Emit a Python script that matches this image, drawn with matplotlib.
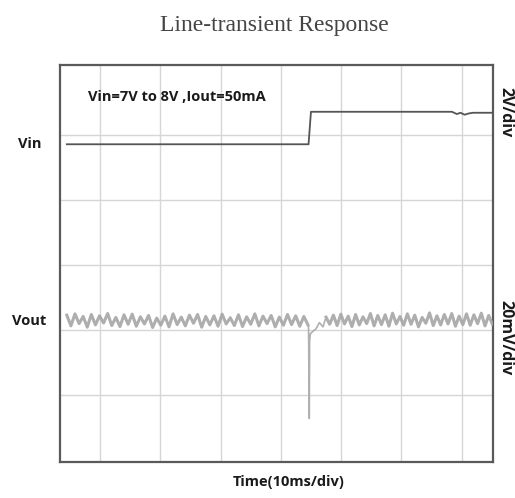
import numpy as np
import matplotlib
matplotlib.use("Agg")
import matplotlib.pyplot as plt

# Vin trace (time in ms, volts)
vin_t = [-5.5, 34.6, 35.0, 58.4, 59.2, 59.8, 60.5, 61.2, 61.9, 65.1]
vin_v = [7.0, 7.0, 8.0, 8.0, 7.93, 7.97, 7.91, 7.95, 7.97, 7.97]

# Vout ripple (mV deviation) before the step, evenly from -5.5 to 34.5 ms
vout_pre = [
    1.8, -1.5, 2.2, -0.8, 1.4, -1.9, 2.0, -1.2, 1.6, -0.6,
    2.3, -1.4, 1.1, -1.7, 1.9, -1.0, 2.1, -1.6, 1.3, -0.9,
    1.7, -2.0, 0.9, -1.3, 1.5, -1.8, 2.2, -1.1, 1.2, -1.5,
    1.8, -0.7, 2.0, -1.9, 1.4, -1.2, 1.6, -1.6, 2.1, -0.9,
    1.0, -1.4, 1.9, -1.7, 1.3, -1.0, 2.2, -1.5, 1.5, -0.8,
    1.7, -1.8, 1.2, -1.3, 2.0, -1.1, 1.6, -1.6, 1.4, -1.2,
]
# transient at the step
spike_t = [34.5, 34.6, 34.72, 34.78, 34.9, 35.3, 35.8, 36.4, 37.0, 37.5]
spike_mv = [-1.2, -1.5, -30.0, -6.0, -4.0, -3.2, -2.5, -0.5, -1.8, 1.2]
# ripple after the step, evenly from 37.5 to 65.1 ms
vout_post = [
    1.2, -1.0, 1.8, -1.4, 2.1, -0.9, 1.5, -1.7, 2.0, -1.2,
    1.3, -0.8, 2.3, -1.5, 1.7, -1.1, 1.9, -1.6, 2.4, -0.9,
    1.4, -1.3, 2.2, -1.0, 1.8, -1.8, 1.1, -0.7, 2.5, -1.4,
    1.6, -1.2, 2.0, -0.9, 2.3, -1.6, 1.5, -1.1, 2.2, -1.3,
    1.9, -0.8, 2.4, -1.5, 1.7, -1.0,
]

# screen placement in divisions
vin_off = -1.64    # div for 0 V
vin_scale = 2.0    # V/div
vout_off = -0.86   # div for 0 mV
vout_scale = 20.0  # mV/div

fig = plt.figure(figsize=(5.15, 4.98), dpi=100)
ax = fig.add_axes([60 / 515, 1 - 462 / 498, 433 / 515, 397 / 498])
ax.set_xlim(-6.63, 65.2)
ax.set_ylim(-3.03, 3.08)

# scope graticule
for gx in range(0, 61, 10):
    ax.axvline(gx, color="#d6d6d6", lw=1.0, zorder=1)
for gy in [-2, -1, 0, 1, 2]:
    ax.axhline(gy, color="#d6d6d6", lw=1.0, zorder=1)
ax.set_xticks([])
ax.set_yticks([])
for s in ax.spines.values():
    s.set_color("#5a5a5a")
    s.set_linewidth(1.6)

vin_y = [vin_off + v / vin_scale for v in vin_v]
ax.plot(vin_t, vin_y, color="#555555", lw=1.3, zorder=3)

def to_div(vals):
    return [vout_off + v / vout_scale for v in vals]

ax.plot(np.linspace(-5.5, 34.5, len(vout_pre)), to_div(vout_pre),
        color="#a5a5a5", lw=2.2, alpha=0.9, zorder=3)
ax.plot(np.linspace(37.5, 65.1, len(vout_post)), to_div(vout_post),
        color="#a5a5a5", lw=2.2, alpha=0.9, zorder=3)
ax.plot(spike_t, to_div(spike_mv), color="#b0b0b0", lw=1.2, zorder=3)

bold = dict(family="Open Sans", fontweight="bold", color="#1a1a1a")
ax.text(0.065, 0.919, "Vin=7V to 8V ,Iout=50mA", transform=ax.transAxes,
        fontsize=10.5, ha="left", va="center", **bold)
fig.text(41 / 515, 1 - 144 / 498, "Vin", fontsize=10.5, ha="right", va="center", **bold)
fig.text(46 / 515, 1 - 321 / 498, "Vout", fontsize=10.5, ha="right", va="center", **bold)
fig.text(505 / 515, 1 - 112 / 498, "2V/div", fontsize=11.5, rotation=-90,
         ha="center", va="center", **bold)
fig.text(505 / 515, 1 - 338 / 498, "20mV/div", fontsize=11.5, rotation=-90,
         ha="center", va="center", **bold)
fig.text(289 / 515, 1 - 482 / 498, "Time(10ms/div)", fontsize=10.5,
         ha="center", va="center", **bold)

fig.text(274 / 515, 1 - 25 / 498, "Line-transient Response", fontsize=17,
         family="Liberation Serif", color="#444444", ha="center", va="center")

fig.savefig("out.png", dpi=100)
